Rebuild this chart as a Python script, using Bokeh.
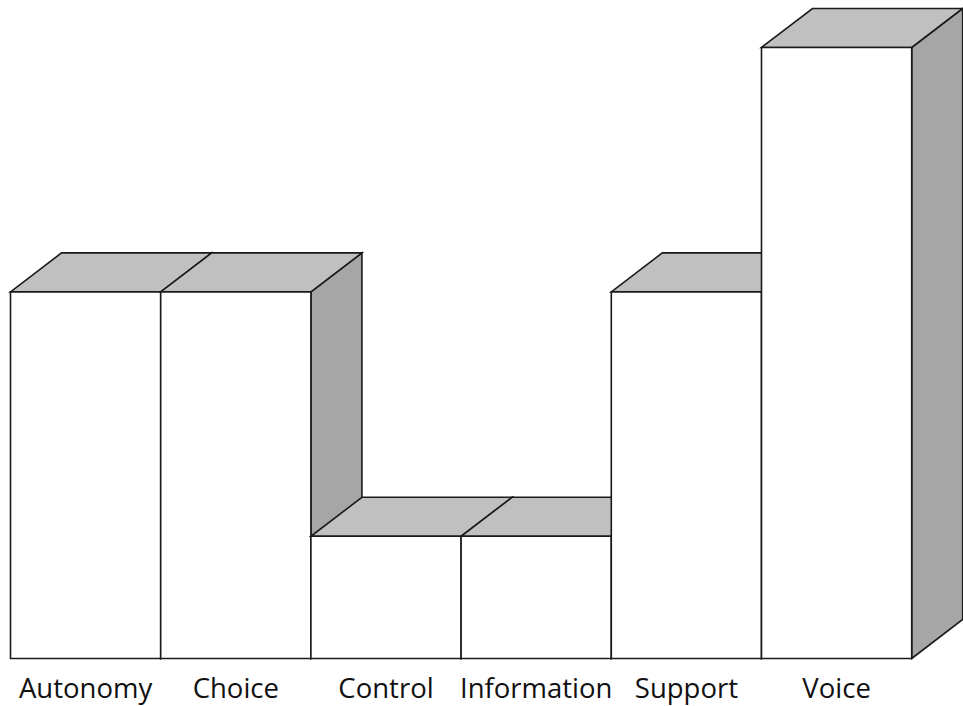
from bokeh.plotting import figure
from bokeh.models import ColumnDataSource, Range1d
from bokeh.core.properties import value
from bokeh.embed import file_html
from bokeh.resources import INLINE

categories = ["Autonomy", "Choice", "Control", "Information", "Support", "Voice"]
values = [3, 3, 1, 1, 3, 5]

# layout constants (pixels per data unit)
W, H = 963, 706
PX_X = 150.2
PX_Y = 122.2
LEFT_PX = 10
BASE_PX = 658
DEPTH_X = 51 / PX_X
DEPTH_Y = 39 / PX_Y
TOP_COLOR = "#c0c0c0"
SIDE_COLOR = "#a6a6a6"
FRONT_COLOR = "#ffffff"

xs, ys, fills = [], [], []
for i, v in enumerate(values):
    x0, x1 = i, i + 1
    # side face
    xs.append([x1, x1 + DEPTH_X, x1 + DEPTH_X, x1])
    ys.append([0, DEPTH_Y, v + DEPTH_Y, v])
    fills.append(SIDE_COLOR)
    # top face
    xs.append([x0, x1, x1 + DEPTH_X, x0 + DEPTH_X])
    ys.append([v, v, v + DEPTH_Y, v + DEPTH_Y])
    fills.append(TOP_COLOR)
    # front face
    xs.append([x0, x1, x1, x0])
    ys.append([0, 0, v, v])
    fills.append(FRONT_COLOR)

src = ColumnDataSource(dict(xs=xs, ys=ys, fill=fills))

p = figure(width=W, height=H, output_backend="svg", toolbar_location=None,
           x_axis_location=None, y_axis_location=None,
           min_border=0, min_border_left=0, min_border_right=0,
           min_border_top=0, min_border_bottom=0,
           x_range=Range1d(-LEFT_PX / PX_X, (W - LEFT_PX) / PX_X),
           y_range=Range1d(-(H - BASE_PX) / PX_Y, BASE_PX / PX_Y))
p.outline_line_color = None
p.grid.visible = False
p.background_fill_color = "white"
p.border_fill_color = "white"

p.patches("xs", "ys", source=src, fill_color="fill", line_color="#1a1a1a",
          line_width=1.6, line_join="miter")

label_y = -(687 - BASE_PX) / PX_Y
p.text(x=[i + 0.5 for i in range(len(categories))], y=[label_y] * len(categories),
       text=categories, text_font=value("Open Sans"), text_font_size="27.5px",
       text_align="center", text_baseline="alphabetic", text_color="#111111")

open("out.html", "w").write(file_html(p, INLINE))
